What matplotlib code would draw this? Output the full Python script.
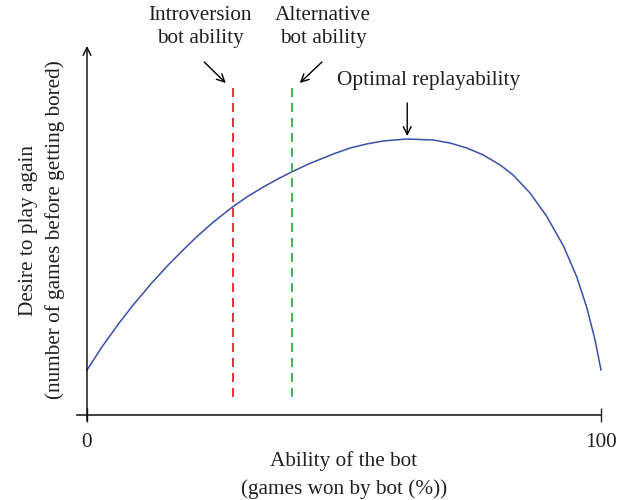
import matplotlib.pyplot as plt

plt.rcParams['font.family'] = ['Liberation Serif', 'DejaVu Serif']
plt.rcParams['lines.scale_dashes'] = False

# curve (ability %, desire in arbitrary units)
ability = [0, 2.9, 6.1, 9.3, 12.6, 15.8, 18.7, 21.3, 24.6, 28.3, 31.1,
           34.3, 37.5, 39.8, 43.1, 47.9, 51.2, 54.4, 57.6, 62.2, 67.4,
           70.6, 73.9, 77.1, 80.4, 82.9, 86.2, 89.4, 92.7, 95.3, 97.2,
           98.8, 100]
desire = [45, 68, 91, 112, 132, 150, 165, 178, 193, 208, 218,
          228, 237, 243, 251, 261, 267, 271, 274, 276, 275,
          272, 267, 260, 250, 240, 222, 199, 169, 138, 108,
          76, 45]

marker_x = [28.4, 39.8]
marker_colors = ['#e8202a', '#36ac48']
marker_bottom, marker_top = 18, 333

xticks = [0, 100]
ink = '#231f20'
fs = 15.3

fig = plt.figure(figsize=(6.28, 5), dpi=100)
ax = fig.add_axes([87 / 628, 85 / 500, 514 / 628, 369 / 500])
ax.set_xlim(0, 100)
ax.set_ylim(0, 369)

ax.plot(ability, desire, color='#3a4fa6', lw=1.1, clip_on=False)
for x, c in zip(marker_x, marker_colors):
    ax.plot([x, x], [marker_bottom, marker_top], color=c, lw=1.3,
            linestyle=(0, (6.5, 4.3)), clip_on=False)

# axes
for s in ['top', 'right', 'left']:
    ax.spines[s].set_visible(False)
ax.spines['bottom'].set_bounds(-2, 100)
ax.spines['bottom'].set_color(ink)
ax.spines['bottom'].set_linewidth(1.2)
ax.set_yticks([])
ax.set_xticks(xticks)
ax.set_xticklabels([str(t) for t in xticks], fontsize=fs, color=ink)
ax.tick_params(axis='x', direction='inout', length=10, width=1.0,
               color=ink, pad=8)
ax.annotate('', xy=(0, 369), xytext=(0, -6),
            arrowprops=dict(arrowstyle='->', color='black', lw=1.0,
                            mutation_scale=14, shrinkA=0, shrinkB=0))

# annotations
ax.text(22.0, 388, 'Introversion\nbot ability', ha='center', va='center',
        fontsize=fs, color=ink, linespacing=1.25)
ax.text(45.9, 388, 'Alternative\nbot ability', ha='center', va='center',
        fontsize=fs, color=ink, linespacing=1.25)
ax.text(66.5, 335, 'Optimal replayability', ha='center', va='center',
        fontsize=fs, color=ink)
arrow = dict(arrowstyle='->', color='black', lw=1.0, mutation_scale=14,
             shrinkA=0, shrinkB=0)
ax.annotate('', xy=(27.0, 332), xytext=(22.8, 353), arrowprops=arrow)
ax.annotate('', xy=(41.4, 332), xytext=(45.7, 353), arrowprops=arrow)
ax.annotate('', xy=(62.3, 279), xytext=(62.3, 312), arrowprops=arrow)

ax.text(50, -60, 'Ability of the bot\n(games won by bot (%))', ha='center',
        va='center', fontsize=fs, color=ink, linespacing=1.5)
ax.text(-8.8, 185, 'Desire to play again\n(number of games before getting bored)',
        ha='center', va='center', rotation=90, fontsize=fs, color=ink,
        linespacing=1.5)

fig.savefig('out.png', dpi=100)
